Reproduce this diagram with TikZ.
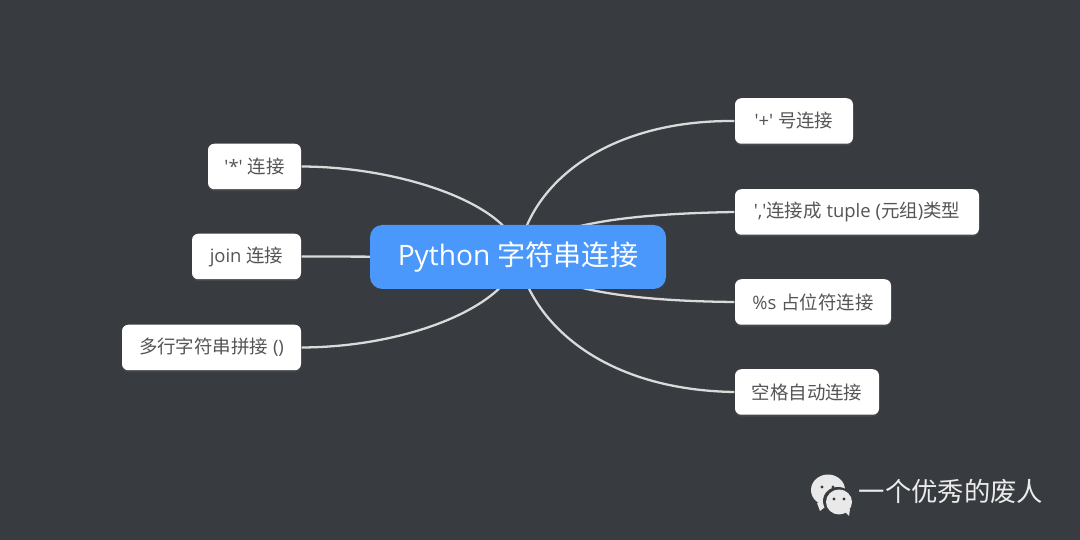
\documentclass[tikz,border=0pt]{standalone}
\usepackage{fontspec}
\newfontfamily\uifont{Open Sans}
\newfontfamily\cjk{Noto Sans CJK SC}
\usetikzlibrary{backgrounds,shadows}
\definecolor{canvasgray}{HTML}{383B3F}
\definecolor{hubblue}{HTML}{4A98FC}
\definecolor{leaftext}{HTML}{555555}
\definecolor{branchgray}{HTML}{DADADA}
\definecolor{iconwhite}{HTML}{E9E9E9}
\tikzset{
    hubbox/.style={fill=hubblue,text=white,rounded corners=3.5pt,font=\uifont\fontsize{8}{10}\selectfont,minimum width=2.96cm,minimum height=0.64cm,inner sep=0pt},
    leafbox/.style={fill=white,text=leaftext,rounded corners=1.8pt,font=\uifont\fontsize{5.25}{6}\selectfont,minimum height=0.455cm,inner sep=0pt,drop shadow={shadow xshift=0pt,shadow yshift=-0.5pt,opacity=0.2}},
    branch/.style={draw=branchgray,line width=0.65pt},
}

\begin{document}
\begin{tikzpicture}[x=1cm,y=1cm]
    \useasboundingbox (0,0) rectangle (10.8,5.4);

    \node[hubbox] (hub) at (5.18,2.83) {Python {\cjk 字符串连接}};

    \node[leafbox,minimum width=1.18cm] (plus) at (7.94,4.19) {'+' {\cjk 号连接}};
    \node[leafbox,minimum width=2.44cm] (tuple) at (8.57,3.28) {','{\cjk 连接成} tuple ({\cjk 元组}){\cjk 类型}};
    \node[leafbox,minimum width=1.56cm] (percent) at (8.13,2.38) {\%s {\cjk 占位符连接}};
    \node[leafbox,minimum width=1.44cm] (blank) at (8.07,1.48) {\cjk 空格自动连接};

    \node[leafbox,minimum width=0.93cm] (star) at (2.545,3.735) {'*' {\cjk 连接}};
    \node[leafbox,minimum width=1.09cm] (join) at (2.465,2.835) {join {\cjk 连接}};
    \node[leafbox,minimum width=1.79cm] (multi) at (2.115,1.925) {{\cjk 多行字符串拼接} ()};

    \begin{scope}[on background layer]
        \fill[canvasgray] (0,0) rectangle (10.8,5.4);
        \draw[branch] (hub.center) .. controls (5.28,3.55) and (6.05,4.2) .. (plus.west);
        \draw[branch] (hub.center) .. controls (5.45,3.15) and (6.2,3.26) .. (tuple.west);
        \draw[branch] (hub.center) .. controls (5.5,2.5) and (6.3,2.39) .. (percent.west);
        \draw[branch] (hub.center) .. controls (5.32,2.15) and (6.05,1.5) .. (blank.west);
        \draw[branch] (hub.center) .. controls (5.2,3.3) and (4.1,3.73) .. (star.east);
        \draw[branch] (hub.center) -- (join.east);
        \draw[branch] (hub.center) .. controls (5.1,2.35) and (4.1,1.93) .. (multi.east);
    \end{scope}

    % wechat mark
    \fill[iconwhite] (8.28,0.5) ellipse (0.17 and 0.155);
    \fill[iconwhite] (8.17,0.37) -- (8.2,0.29) -- (8.3,0.37) -- cycle;
    \fill[canvasgray] (8.22,0.53) circle (0.017);
    \fill[canvasgray] (8.33,0.53) circle (0.017);
    \fill[canvasgray] (8.38,0.39) ellipse (0.15 and 0.14);
    \fill[iconwhite] (8.39,0.38) ellipse (0.13 and 0.125);
    \fill[iconwhite] (8.44,0.29) -- (8.49,0.24) -- (8.5,0.31) -- cycle;
    \fill[canvasgray] (8.34,0.41) circle (0.017);
    \fill[canvasgray] (8.44,0.41) circle (0.017);
    \node[text=white!92!black,font=\cjk\fontsize{7.5}{9}\selectfont,inner sep=0pt] (brand) at (9.51,0.49) {一个优秀的废人};
\end{tikzpicture}
\end{document}
